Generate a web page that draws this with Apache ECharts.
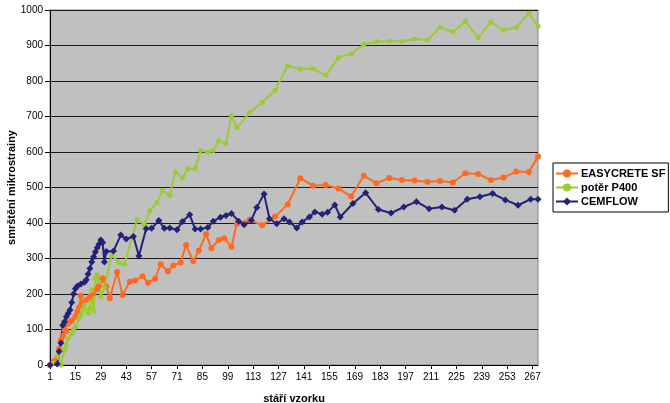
<!DOCTYPE html>
<html>
<head>
<meta charset="utf-8">
<script src="https://cdn.jsdelivr.net/npm/echarts@6/dist/echarts.min.js"></script>
<style>
html,body{margin:0;padding:0;background:#fff;}
#chart{width:670px;height:403px;}
</style>
</head>
<body>
<div id="chart"></div>
<script>
// x categories: days 1..270
const days = Array.from({length: 270}, (_, i) => String(i + 1));

const seriesNames = ['EASYCRETE SF', 'potěr P400', 'CEMFLOW'];

// [day, value] pairs
const easycrete = [
  [1,0],[3,10],[5,22],[6,45],[7,70],[8,82],[9,99],[10,96],[11,117],[12,122],[13,125],
  [15,136],[16,150],[17,162],[18,195],[19,172],[21,183],[23,193],[25,202],[27,214],
  [28,224],[29,238],[30,244],[32,221],[34,188],[38,262],[41,197],[45,235],[48,238],
  [52,250],[55,232],[59,243],[62,284],[66,264],[69,280],[73,289],[76,338],[80,292],
  [83,322],[87,368],[90,329],[94,352],[97,357],[101,333],[104,398],[111,409],[118,394],
  [125,418],[132,452],[139,526],[146,505],[153,507],[160,497],[167,475],[174,533],
  [181,512],[188,527],[195,521],[202,520],[209,516],[216,518],[223,514],[230,540],
  [237,538],[244,521],[251,528],[258,545],[265,544],[270,587]
];

const poter = [
  [1,0],[3,5],[5,25],[7,0],[9,42],[10,56],[11,75],[13,89],[14,99],[15,108],[17,131],
  [18,141],[19,155],[20,169],[22,146],[23,160],[24,211],[25,153],[26,244],[27,254],
  [28,235],[29,193],[31,220],[35,310],[39,288],[42,284],[49,410],[53,395],[56,434],
  [60,458],[63,492],[67,478],[70,544],[74,527],[77,553],[81,553],[84,604],[88,599],
  [91,604],[94,632],[98,623],[101,702],[104,668],[111,711],[118,740],[125,773],
  [132,843],[139,834],[146,835],[153,816],[160,866],[167,877],[174,903],[181,911],
  [188,912],[195,912],[202,918],[209,915],[216,951],[223,938],[230,968],[237,922],
  [244,966],[251,943],[258,951],[265,991],[270,954]
];

const cemflow = [
  [1,0],[5,3],[6,38],[7,62],[8,112],[9,122],[10,136],[11,145],[12,155],[13,176],
  [14,200],[15,215],[16,222],[18,228],[20,233],[21,240],[22,256],[23,272],[24,290],
  [25,305],[26,318],[27,330],[28,340],[29,352],[30,345],[31,290],[32,320],[36,321],
  [40,366],[43,355],[47,362],[50,307],[54,384],[57,385],[61,407],[64,385],[67,386],
  [71,381],[74,404],[78,423],[81,383],[84,383],[88,387],[91,405],[95,416],[98,421],
  [101,427],[105,405],[108,395],[112,408],[115,444],[119,482],[122,412],[126,398],
  [130,412],[133,403],[137,386],[140,403],[144,417],[147,431],[151,425],[154,430],
  [158,451],[161,417],[168,455],[175,485],[182,438],[189,428],[196,445],[203,460],
  [210,440],[217,445],[224,436],[231,467],[238,474],[245,483],[252,465],[259,450],
  [266,467],[270,467]
];

const toIdx = arr => arr.map(p => [p[0] - 1, p[1]]);

const chart = echarts.init(document.getElementById('chart'), null, {renderer: 'canvas'});
const FONT = 'Liberation Sans, Arial, sans-serif';

chart.setOption({
  animation: false,
  backgroundColor: '#ffffff',
  grid: {
    left: 50, right: 132, top: 10, bottom: 38,
    outerBoundsMode: 'none',
    containLabel: false,
    show: true, backgroundColor: '#C0C0C0', borderColor: '#808080', borderWidth: 1
  },
  legend: {
    orient: 'vertical',
    left: 553, top: 163,
    padding: [5, 3, 5, 2],
    itemGap: 3,
    itemWidth: 22, itemHeight: 10,
    borderColor: '#000', borderWidth: 1,
    textStyle: {fontFamily: FONT, fontWeight: 'bold', fontSize: 11, color: '#000', padding: [0,0,0,-2]},
    data: seriesNames
  },
  xAxis: {
    type: 'category',
    data: days,
    boundaryGap: false,
    name: 'stáří vzorku',
    nameLocation: 'middle',
    nameGap: 28,
    nameMoveOverlap: false,
    nameTextStyle: {fontFamily: FONT, fontWeight: 'bold', fontSize: 11, color: '#000'},
    axisLine: {lineStyle: {color: '#000', width: 1}},
    axisTick: {show: true, interval: 13, length: 4, lineStyle: {color: '#000'}},
    axisLabel: {interval: 13, fontFamily: FONT, fontSize: 10, color: '#000', margin: 7},
    splitLine: {show: false}
  },
  yAxis: {
    type: 'value',
    min: 0, max: 1000, interval: 100,
    name: 'smrštění mikrostrainy',
    nameLocation: 'middle',
    nameGap: 33,
    nameMoveOverlap: false,
    nameTextStyle: {fontFamily: FONT, fontWeight: 'bold', fontSize: 11, color: '#000'},
    axisLine: {show: true, lineStyle: {color: '#000', width: 1}},
    axisTick: {show: true, length: 5, lineStyle: {color: '#000'}},
    axisLabel: {fontFamily: FONT, fontSize: 10, color: '#000', margin: 7, formatter: v => String(v)},
    splitLine: {show: true, lineStyle: {color: '#1a1a1a', width: 1}}
  },
  series: [
    {
      name: seriesNames[0], type: 'line', data: toIdx(easycrete),
      connectNulls: true, showAllSymbol: true,
      symbol: 'circle', symbolSize: 6,
      lineStyle: {color: '#FF6A21', width: 2},
      itemStyle: {color: '#FF6A21'}
    },
    {
      name: seriesNames[1], type: 'line', data: toIdx(poter),
      connectNulls: true, showAllSymbol: true,
      symbol: 'circle', symbolSize: 5,
      lineStyle: {color: '#99CC33', width: 2},
      itemStyle: {color: '#99CC33'}
    },
    {
      name: seriesNames[2], type: 'line', data: toIdx(cemflow),
      connectNulls: true, showAllSymbol: true,
      symbol: 'diamond', symbolSize: 7,
      lineStyle: {color: '#222277', width: 2},
      itemStyle: {color: '#222277'}
    }
  ]
});
</script>
</body>
</html>
